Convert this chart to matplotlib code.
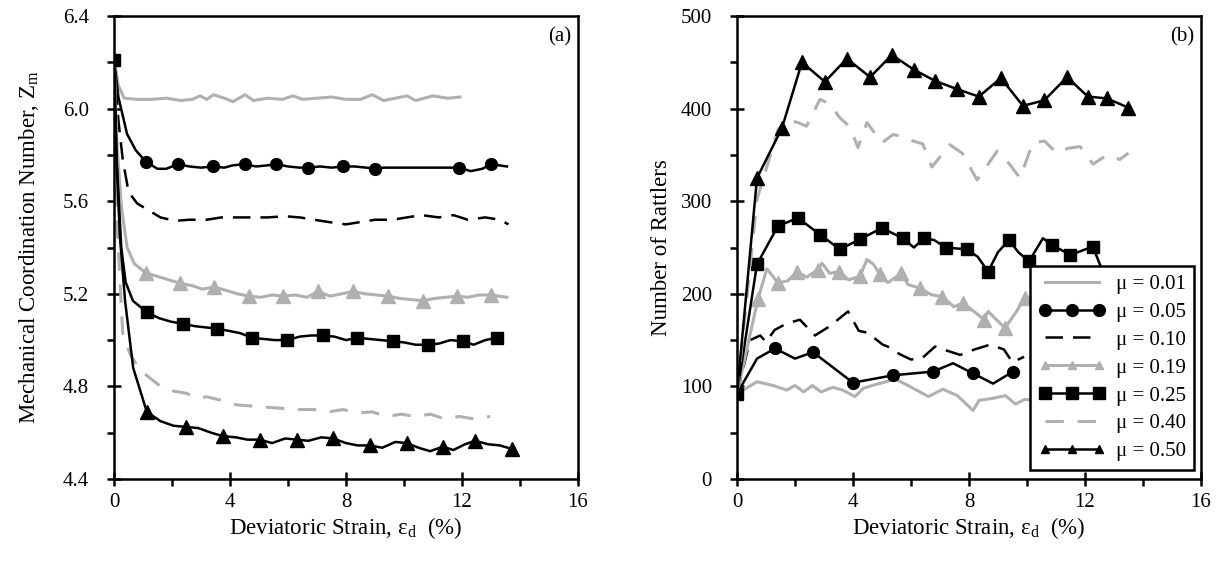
import numpy as np
import matplotlib
matplotlib.use('Agg')
import matplotlib.pyplot as plt
from matplotlib.ticker import MultipleLocator, FormatStrFormatter

plt.rcParams['font.family'] = ['Liberation Serif', 'DejaVu Serif']
plt.rcParams['mathtext.fontset'] = 'custom'
plt.rcParams['mathtext.rm'] = 'Liberation Serif'
plt.rcParams['mathtext.it'] = 'Liberation Serif:italic'

GRAY = '#b0b0b0'
BLACK = '#000000'

mu_labels = ['μ = 0.01', 'μ = 0.05', 'μ = 0.10', 'μ = 0.19', 'μ = 0.25', 'μ = 0.40', 'μ = 0.50']

# ---- (a) mechanical coordination number vs deviatoric strain ----
zm_x_001 = [0, 0.15, 0.35, 0.8, 1.3, 1.8, 2.3, 2.7, 2.97, 3.2, 3.43, 3.8, 4.1, 4.52, 4.8, 5.3,
            5.8, 6.17, 6.5, 7.0, 7.5, 8.0, 8.5, 8.9, 9.3, 9.7, 10.1, 10.4, 11.0, 11.5, 11.93]
zm_y_001 = [6.21, 6.10, 6.045, 6.04, 6.04, 6.045, 6.035, 6.04, 6.055, 6.04, 6.06, 6.045, 6.03,
            6.06, 6.035, 6.045, 6.04, 6.055, 6.04, 6.045, 6.05, 6.04, 6.04, 6.06, 6.035, 6.045,
            6.055, 6.035, 6.055, 6.045, 6.05]

zm_x_005 = [0, 0.15, 0.45, 0.75, 1.1, 1.5, 1.8, 2.2, 2.6, 3.0, 3.4, 3.8, 4.1, 4.5, 4.9, 5.3, 5.6,
            6.0, 6.4, 6.7, 7.1, 7.5, 7.9, 8.3, 8.7, 9.0, 9.3, 11.6, 11.9, 12.3, 12.7, 13.0, 13.55]
zm_y_005 = [6.21, 6.05, 5.89, 5.82, 5.77, 5.74, 5.74, 5.76, 5.75, 5.745, 5.75, 5.745, 5.755, 5.76,
            5.75, 5.755, 5.76, 5.75, 5.745, 5.745, 5.75, 5.745, 5.75, 5.75, 5.745, 5.74, 5.745,
            5.745, 5.745, 5.73, 5.74, 5.76, 5.75]
zm_mk_005 = [4, 7, 10, 13, 16, 19, 22, 25, 28, 31]

zm_x_010 = [0, 0.15, 0.3, 0.5, 0.8, 1.2, 1.6, 2.1, 2.6, 3.2, 3.7, 4.3, 4.8, 5.3, 5.9, 6.4, 6.9,
            7.4, 8.0, 8.5, 9.0, 9.6, 10.1, 10.6, 11.2, 11.7, 12.2, 12.8, 13.3, 13.6]
zm_y_010 = [6.21, 5.95, 5.78, 5.64, 5.59, 5.56, 5.53, 5.515, 5.52, 5.52, 5.53, 5.53, 5.53, 5.53,
            5.535, 5.53, 5.52, 5.51, 5.50, 5.51, 5.52, 5.52, 5.53, 5.54, 5.53, 5.54, 5.52, 5.53,
            5.52, 5.50]

zm_x_019 = [0, 0.1, 0.25, 0.45, 0.7, 1.1, 1.5, 1.9, 2.28, 2.7, 3.05, 3.45, 3.85, 4.25, 4.65, 5.05,
            5.45, 5.83, 6.25, 6.65, 7.04, 7.45, 7.85, 8.25, 8.65, 9.05, 9.45, 9.85, 10.25, 10.66,
            11.05, 11.45, 11.84, 12.2, 12.6, 13.0, 13.55]
zm_y_019 = [6.21, 5.85, 5.58, 5.40, 5.33, 5.29, 5.275, 5.26, 5.245, 5.235, 5.22, 5.23, 5.215,
            5.20, 5.19, 5.185, 5.195, 5.19, 5.195, 5.185, 5.21, 5.19, 5.20, 5.21, 5.20, 5.195,
            5.19, 5.18, 5.175, 5.17, 5.18, 5.185, 5.19, 5.185, 5.195, 5.195, 5.185]
zm_mk_019 = [5, 8, 11, 14, 17, 20, 23, 26, 29, 32, 35]

zm_x_025 = [0, 0.1, 0.25, 0.4, 0.65, 1.13, 1.55, 1.95, 2.38, 2.8, 3.15, 3.55, 3.95, 4.35, 4.76,
            5.15, 5.55, 5.97, 6.4, 6.8, 7.2, 7.6, 8.0, 8.38, 8.8, 9.2, 9.62, 10.0, 10.4, 10.83,
            11.2, 11.6, 12.03, 12.4, 12.8, 13.2]
zm_y_025 = [6.21, 5.75, 5.40, 5.25, 5.17, 5.12, 5.095, 5.08, 5.07, 5.06, 5.055, 5.05, 5.04,
            5.03, 5.01, 5.005, 5.00, 5.00, 5.015, 5.02, 5.02, 5.015, 5.00, 5.01, 5.005, 5.00,
            4.995, 4.99, 4.98, 4.98, 4.985, 5.00, 4.995, 4.98, 5.00, 5.01]
zm_mk_025 = [0, 5, 8, 11, 14, 17, 20, 23, 26, 29, 32, 35]

zm_x_040 = [0, 0.1, 0.3, 0.55, 0.9, 1.3, 1.6, 2.04, 2.5, 2.85, 3.2, 3.7, 4.24, 4.75, 5.28, 5.8,
            6.4, 6.9, 7.4, 7.9, 8.4, 8.9, 9.4, 9.9, 10.4, 10.9, 11.4, 11.9, 12.4, 12.97]
zm_y_040 = [6.21, 5.5, 5.03, 4.94, 4.87, 4.83, 4.80, 4.78, 4.77, 4.75, 4.755, 4.74, 4.72, 4.715,
            4.71, 4.705, 4.70, 4.70, 4.69, 4.70, 4.685, 4.69, 4.67, 4.68, 4.67, 4.68, 4.66, 4.67,
            4.66, 4.67]

zm_x_050 = [0, 0.08, 0.2, 0.38, 0.66, 1.13, 1.6, 2.05, 2.48, 2.9, 3.35, 3.76, 4.2, 4.6, 5.03,
            5.45, 5.9, 6.31, 6.7, 7.15, 7.56, 8.0, 8.4, 8.83, 9.25, 9.7, 10.1, 10.5, 10.9, 11.34,
            11.7, 12.1, 12.45, 12.9, 13.3, 13.72]
zm_y_050 = [6.21, 5.8, 5.45, 5.17, 4.88, 4.69, 4.65, 4.63, 4.625, 4.62, 4.60, 4.585, 4.58, 4.57,
            4.57, 4.555, 4.575, 4.57, 4.565, 4.58, 4.575, 4.555, 4.545, 4.545, 4.535, 4.56,
            4.555, 4.535, 4.52, 4.54, 4.525, 4.55, 4.565, 4.55, 4.545, 4.53]
zm_mk_050 = [5, 8, 11, 14, 17, 20, 23, 26, 29, 32, 35]

# ---- (b) number of rattlers vs deviatoric strain ----
nr_x_001 = [0, 0.69, 1.24, 1.72, 2.0, 2.3, 2.6, 2.9, 3.3, 3.65, 4.07, 4.36, 4.67, 5.14, 5.45,
            5.9, 6.6, 7.1, 7.6, 8.14, 8.35, 8.8, 9.26, 9.6, 9.93, 10.5]
nr_y_001 = [92, 105, 101, 96, 101, 94, 101, 94, 99, 96, 89, 98, 101, 105, 108, 101, 89, 97, 90,
            74, 85, 87, 90, 81, 86, 84]

nr_x_005 = [0, 0.69, 1.31, 2.0, 2.62, 4.0, 5.38, 6.76, 7.45, 8.14, 8.83, 9.52]
nr_y_005 = [92, 130, 141, 130, 137, 104, 112, 116, 125, 114, 103, 116]
nr_mk_005 = [2, 4, 5, 6, 7, 9, 11]

nr_x_010 = [0, 0.45, 0.8, 1.0, 1.3, 1.72, 2.17, 2.69, 3.2, 3.83, 4.2, 4.5, 5.03, 5.2, 5.6, 6.0,
            6.4, 6.83, 7.3, 7.7, 8.2, 8.72, 9.2, 9.5, 9.9]
nr_y_010 = [92, 150, 155, 148, 161, 168, 172, 155, 165, 181, 160, 158, 145, 143, 135, 129, 131,
            143, 138, 134, 140, 145, 140, 126, 132]

nr_x_019 = [0, 0.72, 1.03, 1.41, 1.75, 2.07, 2.4, 2.79, 2.93, 3.2, 3.52, 3.85, 4.24, 4.48, 4.7,
            4.93, 5.2, 5.66, 5.9, 6.31, 6.7, 7.07, 7.48, 7.79, 8.21, 8.52, 8.66, 9.24, 9.62, 9.93,
            10.3]
nr_y_019 = [92, 194, 227, 212, 214, 224, 218, 226, 233, 222, 224, 215, 219, 237, 232, 221, 212,
            222, 210, 206, 199, 197, 186, 190, 180, 172, 181, 163, 180, 196, 185]
nr_mk_019 = [1, 3, 5, 7, 10, 12, 15, 17, 19, 21, 23, 25, 27, 29]

nr_x_025 = [0, 0.69, 1.41, 2.1, 2.86, 3.55, 4.24, 5.0, 5.72, 6.1, 6.45, 6.8, 7.2, 7.93, 8.3,
            8.66, 9.0, 9.38, 9.7, 10.07, 10.55, 10.86, 11.2, 11.5, 12.27, 12.6, 13.0, 13.4]
nr_y_025 = [92, 232, 273, 282, 264, 248, 259, 271, 260, 250, 260, 258, 250, 248, 240, 224, 245,
            258, 245, 235, 260, 253, 247, 242, 251, 225, 215, 210]
nr_mk_025 = [0, 1, 2, 3, 4, 5, 6, 7, 8, 10, 12, 13, 15, 17, 19, 21, 23, 24]

nr_x_040 = [0, 0.69, 1.41, 1.72, 2.1, 2.4, 2.86, 3.2, 3.55, 3.9, 4.17, 4.48, 5.0, 5.38, 5.7,
            6.07, 6.4, 6.72, 7.34, 7.76, 8.28, 8.97, 9.4, 9.76, 10.2, 10.6, 11.03, 11.4, 11.83,
            12.28, 12.76, 13.2, 13.5]
nr_y_040 = [92, 302, 377, 388, 385, 381, 410, 405, 390, 380, 358, 385, 363, 372, 370, 365, 362,
            337, 361, 352, 323, 354, 340, 325, 363, 365, 352, 357, 359, 340, 350, 345, 352]

nr_x_050 = [0, 0.69, 1.55, 2.24, 3.03, 3.79, 4.59, 5.34, 6.1, 6.83, 7.59, 8.34, 9.1, 9.86, 10.6,
            11.38, 12.1, 12.76, 13.5]
nr_y_050 = [92, 325, 379, 450, 429, 454, 434, 458, 442, 430, 421, 413, 433, 403, 409, 434, 413,
            411, 401]
nr_mk_050 = list(range(1, len(nr_x_050)))


def style_axes(ax, ymin, ymax, ymajor, yminor, panel):
    ax.set_xlim(0, 16)
    ax.set_ylim(ymin, ymax)
    ax.xaxis.set_major_locator(MultipleLocator(4))
    ax.xaxis.set_minor_locator(MultipleLocator(2))
    ax.yaxis.set_major_locator(MultipleLocator(ymajor))
    ax.yaxis.set_minor_locator(MultipleLocator(yminor))
    ax.tick_params(which='major', direction='inout', length=10, width=1.8, labelsize=15,
                   top=False, right=False)
    ax.tick_params(axis='y', which='major', pad=13)
    ax.tick_params(axis='x', which='major', pad=5)
    ax.tick_params(which='minor', direction='out', length=5, width=1.8, top=False, right=False)
    for s in ax.spines.values():
        s.set_linewidth(1.8)
    ax.set_xlabel('Deviatoric Strain, ε$_{\\rm d}$  (%)', fontsize=16.5, labelpad=2)
    ax.text(0.985, 0.975, panel, transform=ax.transAxes, ha='right', va='top', fontsize=15)


fig = plt.figure(figsize=(12.21, 5.72), dpi=100)
ax1 = fig.add_axes([0.0934, 0.1626, 0.380, 0.8094])
ax2 = fig.add_axes([0.6036, 0.1626, 0.380, 0.8094])

lw = 1.8
glw = 2.2
ms = 8.5
bdash = (7, 4)
gdash = (6, 4.5)

# panel (a)
ax1.plot(zm_x_001, zm_y_001, color=GRAY, lw=glw)
ax1.plot(zm_x_005, zm_y_005, color=BLACK, lw=lw, marker='o', ms=ms, markevery=zm_mk_005)
ax1.plot(zm_x_010, zm_y_010, color=BLACK, lw=lw, dashes=bdash)
ax1.plot(zm_x_019, zm_y_019, color=GRAY, lw=glw, marker='^', ms=ms + 1.5, markevery=zm_mk_019)
ax1.plot(zm_x_025, zm_y_025, color=BLACK, lw=lw, marker='s', ms=ms, markevery=zm_mk_025)
ax1.plot(zm_x_040, zm_y_040, color=GRAY, lw=glw, dashes=gdash)
ax1.plot(zm_x_050, zm_y_050, color=BLACK, lw=lw, marker='^', ms=ms + 1.5, markevery=zm_mk_050)
style_axes(ax1, 4.4, 6.4, 0.4, 0.2, '(a)')
ax1.yaxis.set_major_formatter(FormatStrFormatter('%.1f'))
ax1.set_ylabel('Mechanical Coordination Number, Z$_{\\rm m}$', fontsize=16.5, labelpad=16)

# panel (b)
ax2.plot(nr_x_001, nr_y_001, color=GRAY, lw=glw, label=mu_labels[0])
ax2.plot(nr_x_005, nr_y_005, color=BLACK, lw=lw, marker='o', ms=ms, markevery=nr_mk_005,
         label=mu_labels[1])
ax2.plot(nr_x_010, nr_y_010, color=BLACK, lw=lw, dashes=bdash, label=mu_labels[2])
ax2.plot(nr_x_019, nr_y_019, color=GRAY, lw=glw, marker='^', ms=ms + 1.5, markevery=nr_mk_019,
         label=mu_labels[3])
ax2.plot(nr_x_025, nr_y_025, color=BLACK, lw=lw, marker='s', ms=ms, markevery=nr_mk_025,
         label=mu_labels[4])
ax2.plot(nr_x_040, nr_y_040, color=GRAY, lw=glw, dashes=gdash, label=mu_labels[5])
ax2.plot(nr_x_050, nr_y_050, color=BLACK, lw=lw, marker='^', ms=ms + 1.5, markevery=nr_mk_050,
         label=mu_labels[6])
style_axes(ax2, 0, 500, 100, 50, '(b)')
ax2.set_ylabel('Number of Rattlers', fontsize=16.5, labelpad=6)

leg = ax2.legend(loc='lower right', bbox_to_anchor=(0.985, 0.02), fontsize=15,
                 handlelength=3.2, numpoints=3, fancybox=False,
                 framealpha=1, edgecolor='black', borderpad=0.4, labelspacing=0.4,
                 handletextpad=0.5, borderaxespad=0)
leg.get_frame().set_linewidth(1.8)
leg.set_zorder(10)
# triangles are drawn smaller in the key than on the curves
for h in leg.get_lines():
    if h.get_marker() == '^':
        h.set_markersize(6)

fig.savefig('out.png', dpi=100)
